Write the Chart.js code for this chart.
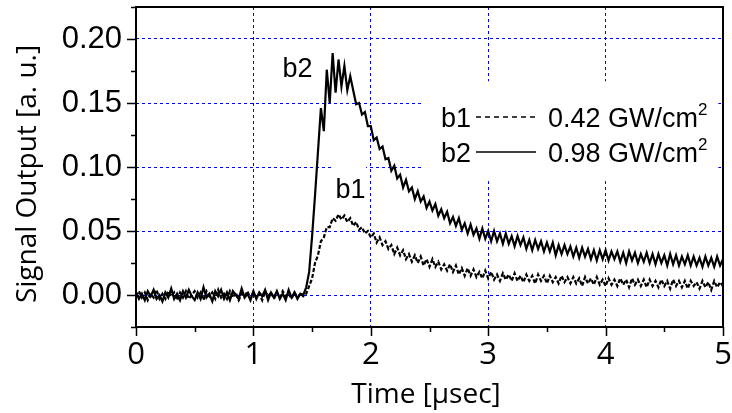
<!DOCTYPE html>
<html lang="en">
<head>
<meta charset="UTF-8">
<title>Signal Output</title>
<style>
  body { margin: 0; background: #fff; }
  #wrap { width: 732px; height: 413px; }
</style>
</head>
<body>
<div id="wrap"><canvas id="chart" width="732" height="413"></canvas></div>
<script src="https://cdn.jsdelivr.net/npm/chart.js@4/dist/chart.umd.min.js"></script>
<script>
// scope traces, one sample every 0.025 usec from 0 to 5 usec
const t0 = 0;
const dt = 0.025;

const b1Values = [
  -0.001, 0.003, -0.002, 0.002, -0.004, 0.001, -0.002, 0.004, -0.003, 0.001,
  -0.003, 0.003, -0.001, 0.002, -0.004, 0.002, -0.002, 0.003, -0.003, 0.000,
  0.003, -0.002, 0.002, -0.004, 0.003, -0.001, 0.002, -0.003, 0.004, -0.002,
  0.001, -0.003, 0.003, -0.002, 0.002, -0.004, 0.001, -0.001, 0.003, -0.003,
  0.002, -0.002, 0.001, -0.004, 0.003, -0.001, 0.002, -0.003, 0.002, -0.002,
  0.003, -0.001, 0.001, -0.003, 0.002, -0.002, 0.001, -0.001,
  0.001, 0.007, 0.013, 0.025, 0.031, 0.042, 0.045, 0.053, 0.053, 0.060,
  0.058, 0.063, 0.059, 0.062, 0.057, 0.060, 0.054, 0.057, 0.051, 0.053,
  0.048, 0.050, 0.045,
  0.048, 0.041, 0.045, 0.039, 0.042, 0.036, 0.039, 0.032, 0.037, 0.031,
  0.035, 0.028, 0.032, 0.026, 0.031, 0.025, 0.030, 0.023, 0.028, 0.022,
  0.028, 0.022, 0.026, 0.020, 0.024, 0.019, 0.024, 0.018, 0.023, 0.016,
  0.021, 0.015, 0.021, 0.015, 0.020, 0.014, 0.018, 0.013, 0.019, 0.013,
  0.018, 0.012, 0.016, 0.011, 0.017, 0.012, 0.016, 0.011, 0.017, 0.011,
  0.015, 0.010, 0.016, 0.011, 0.015, 0.009, 0.016, 0.011, 0.015, 0.009,
  0.015, 0.010, 0.014, 0.009, 0.015, 0.010, 0.014, 0.009, 0.014, 0.009,
  0.013, 0.007, 0.014, 0.009, 0.013, 0.008, 0.014, 0.008, 0.012, 0.007,
  0.013, 0.008, 0.012, 0.007, 0.013, 0.008, 0.012, 0.006, 0.013, 0.008,
  0.012, 0.007, 0.012, 0.006, 0.012, 0.007, 0.011, 0.006,
  0.012, 0.007, 0.011, 0.005, 0.012, 0.007, 0.011, 0.006, 0.011, 0.005,
  0.011, 0.007, 0.010, 0.005, 0.011, 0.006, 0.010, 0.004, 0.011, 0.006,
  0.010, 0.007
];

const b2Values = [
  0.002, -0.003, 0.001, -0.004, 0.003, -0.001, 0.004, -0.003, 0.000, -0.005,
  0.002, -0.002, 0.005, -0.003, 0.001, -0.004, 0.003, -0.002, 0.004, -0.001,
  -0.004, 0.002, -0.003, 0.006, -0.002, 0.001, -0.005, 0.003, -0.001, 0.004,
  -0.003, 0.002, -0.004, 0.003, 0.000, -0.003, 0.005, -0.002, 0.001, -0.004,
  0.003, -0.003, 0.002, -0.001, 0.004, -0.004, 0.002, -0.002, 0.003, -0.003,
  0.001, -0.004, 0.004, -0.002, 0.002, -0.003, 0.001, 0.000,
  0.006, 0.018, 0.046, 0.078, 0.112, 0.146, 0.128, 0.176, 0.150, 0.189,
  0.158, 0.184, 0.163, 0.179, 0.160, 0.171,
  0.160, 0.149, 0.150, 0.141, 0.143, 0.132, 0.132, 0.121, 0.123, 0.114,
  0.116, 0.106, 0.107, 0.097, 0.101, 0.091, 0.094, 0.084, 0.090, 0.081,
  0.084, 0.075, 0.081, 0.073, 0.077, 0.068, 0.073, 0.066, 0.071, 0.062,
  0.067, 0.060, 0.065, 0.056, 0.061, 0.054, 0.060, 0.051, 0.056, 0.048,
  0.055, 0.047, 0.052, 0.044, 0.052, 0.044, 0.050, 0.042, 0.050, 0.042,
  0.048, 0.040, 0.048, 0.040, 0.046, 0.038, 0.046, 0.039, 0.045, 0.036,
  0.043, 0.035, 0.043, 0.036, 0.042, 0.034, 0.041, 0.034, 0.041, 0.031,
  0.039, 0.032, 0.039, 0.032, 0.038, 0.030, 0.037, 0.029, 0.037, 0.030,
  0.036, 0.028, 0.035, 0.027, 0.035, 0.028, 0.035,
  0.027, 0.034, 0.028, 0.034, 0.026, 0.033, 0.025, 0.034, 0.027, 0.033,
  0.025, 0.032, 0.026, 0.033, 0.025, 0.032, 0.024, 0.032, 0.025, 0.031,
  0.023, 0.032, 0.024, 0.031, 0.023, 0.030, 0.024, 0.031, 0.023, 0.030,
  0.023, 0.029, 0.022, 0.030, 0.023, 0.029, 0.022, 0.030, 0.023, 0.028
];

const seriesNames = ['b1', 'b2'];
const fluences = ['0.42 GW/cm', '0.98 GW/cm'];
const xTickLabels = ['0', '1', '2', '3', '4', '5'];
const yTickLabels = ['0.00', '0.05', '0.10', '0.15', '0.20'];
const xTitle = 'Time [\u00b5sec]';
const yTitle = 'Signal Output [a. u.]';

const times = b2Values.map((_, i) => +(t0 + i * dt).toFixed(3));
const toPoints = vals => vals.map((v, i) => ({ x: times[i], y: v }));

const GRID_BLUE = '#0000ff';
const TICK_FONT = '"Liberation Sans", Arial, sans-serif';
const TITLE_FONT = '"Open Sans", sans-serif';

function yIndex(v) { return Math.round(v / 0.025); }

const decor = {
  id: 'decor',
  beforeDatasetsDraw(chart) {
    const { ctx, scales: { x, y } } = chart;
    ctx.save();
    ctx.fillStyle = '#fff';
    // white patches behind legend and the b1 label
    let l = x.getPixelForValue(2.43), r = x.getPixelForValue(4.96);
    let t = y.getPixelForValue(0.167), b = y.getPixelForValue(0.089);
    ctx.fillRect(l, t, r - l, b - t);
    l = x.getPixelForValue(1.67); r = x.getPixelForValue(1.96);
    t = y.getPixelForValue(0.103); b = y.getPixelForValue(0.071);
    ctx.fillRect(l, t, r - l, b - t);
    ctx.restore();
  },
  afterDraw(chart) {
    const { ctx, chartArea: a, scales: { x, y } } = chart;
    ctx.save();
    ctx.strokeStyle = '#000';
    ctx.lineWidth = 2;
    ctx.strokeRect(a.left, a.top, a.right - a.left, a.bottom - a.top);

    // tick marks, major and minor
    ctx.lineWidth = 1.5;
    ctx.beginPath();
    for (let k = -1; k <= 9; k++) {
      const py = Math.round(y.getPixelForValue(k * 0.025)) + 0.5;
      const len = k % 2 === 0 ? 9 : 5;
      ctx.moveTo(a.left - len, py);
      ctx.lineTo(a.left, py);
    }
    for (let k = 0; k <= 10; k++) {
      const px = Math.round(x.getPixelForValue(k * 0.5)) + 0.5;
      const len = k % 2 === 0 ? 9 : 5;
      ctx.moveTo(px, a.bottom);
      ctx.lineTo(px, a.bottom + len);
    }
    ctx.stroke();

    // axis titles
    ctx.fillStyle = '#000';
    ctx.font = '28px ' + TITLE_FONT;
    ctx.textAlign = 'center';
    ctx.textBaseline = 'alphabetic';
    ctx.fillText(xTitle, 426, 403);
    ctx.save();
    ctx.translate(36, 174);
    ctx.rotate(-Math.PI / 2);
    ctx.fillText(yTitle, 0, 0);
    ctx.restore();

    // curve labels
    ctx.font = '27px ' + TICK_FONT;
    ctx.textAlign = 'left';
    ctx.fillText(seriesNames[1], x.getPixelForValue(1.248), y.getPixelForValue(0.170));
    ctx.fillText(seriesNames[0], x.getPixelForValue(1.70), y.getPixelForValue(0.0757));

    // legend
    const rows = [{ base: 127, line: 117, dash: [5, 4] }, { base: 162, line: 152, dash: [] }];
    rows.forEach((row, i) => {
      ctx.font = '27px ' + TICK_FONT;
      ctx.fillText(seriesNames[i], 441, row.base);
      ctx.fillText(fluences[i], 548, row.base);
      const w = ctx.measureText(fluences[i]).width;
      ctx.font = '17px ' + TICK_FONT;
      ctx.fillText('2', 548 + w, row.base - 12);
      ctx.beginPath();
      ctx.setLineDash(row.dash);
      ctx.lineWidth = 1.3;
      ctx.moveTo(476, row.line);
      ctx.lineTo(536, row.line);
      ctx.stroke();
      ctx.setLineDash([]);
    });
    ctx.restore();
  }
};

new Chart(document.getElementById('chart'), {
  type: 'line',
  data: {
    datasets: [
      {
        label: seriesNames[0],
        data: toPoints(b1Values),
        borderColor: '#000',
        borderWidth: 2.2,
        borderDash: [4, 2],
        pointRadius: 0,
        tension: 0
      },
      {
        label: seriesNames[1],
        data: toPoints(b2Values),
        borderColor: '#000',
        borderWidth: 2.2,
        pointRadius: 0,
        tension: 0
      }
    ]
  },
  options: {
    responsive: false,
    animation: false,
    events: [],
    layout: { padding: { top: 7, right: 9, left: 0, bottom: 0 } },
    plugins: { legend: { display: false }, tooltip: { enabled: false } },
    scales: {
      x: {
        type: 'linear',
        min: 0,
        max: 5,
        afterFit: s => { s.height = 86; s.paddingLeft = 0; s.paddingRight = 0; },
        ticks: {
          stepSize: 0.5,
          autoSkip: false,
          maxRotation: 0,
          padding: 10,
          color: '#000',
          font: { family: TITLE_FONT, size: 31 },
          callback: v => Number.isInteger(v) ? xTickLabels[v] : ''
        },
        grid: {
          drawTicks: false,
          lineWidth: 1,
          color: c => (c.tick && Number.isInteger(c.tick.value) && c.tick.value > 0 && c.tick.value < 5) ? GRID_BLUE : 'rgba(0,0,0,0)'
        },
        border: { display: false, dash: [3, 3] }
      },
      y: {
        min: -0.025,
        max: 0.225,
        afterFit: s => { s.width = 136; s.paddingTop = 0; s.paddingBottom = 0; },
        ticks: {
          stepSize: 0.025,
          autoSkip: false,
          padding: 14,
          color: '#000',
          font: { family: TICK_FONT, size: 31 },
          callback: v => {
            const k = yIndex(v);
            return (k % 2 === 0 && k >= 0 && k <= 8) ? yTickLabels[k / 2] : '';
          }
        },
        grid: {
          drawTicks: false,
          lineWidth: 1,
          color: c => {
            if (!c.tick) return 'rgba(0,0,0,0)';
            const k = yIndex(c.tick.value);
            return (k % 2 === 0 && k >= 0 && k <= 8) ? GRID_BLUE : 'rgba(0,0,0,0)';
          }
        },
        border: { display: false, dash: [3, 3] }
      }
    }
  },
  plugins: [decor]
});
</script>
</body>
</html>
